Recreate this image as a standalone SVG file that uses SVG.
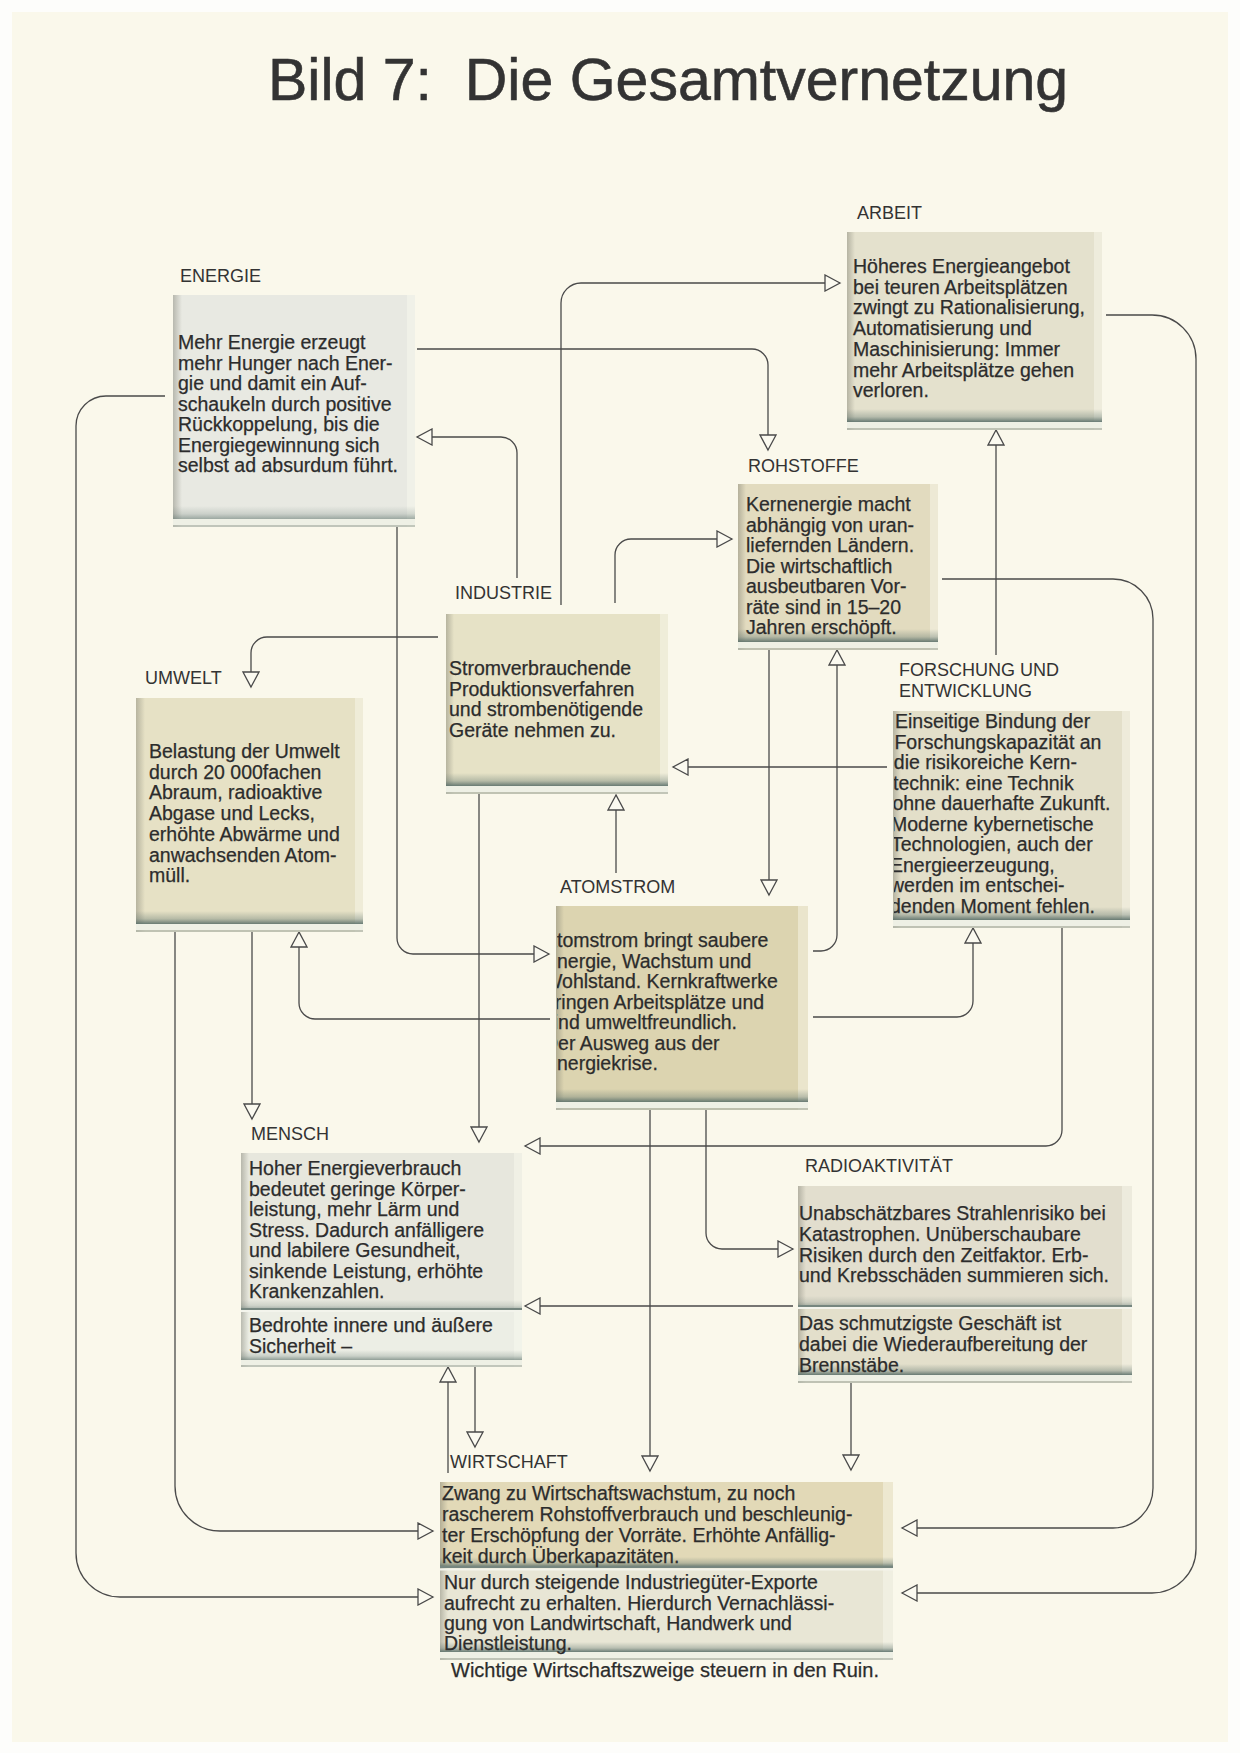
<svg xmlns="http://www.w3.org/2000/svg" width="1240" height="1753" viewBox="0 0 1240 1753">
<style>
.lbl{font-family:"Liberation Sans",Arial,Helvetica,sans-serif;font-size:18px;fill:#333333}
.txt{font-family:"Liberation Sans",Arial,Helvetica,sans-serif;font-size:19.5px;fill:#2c2c2c;stroke:#2c2c2c;stroke-width:0.25}
.ttl{font-family:"Liberation Sans",Arial,Helvetica,sans-serif;font-size:59px;fill:#333333;stroke:#333333;stroke-width:0.6}
.conn path{fill:none;stroke:#4a4a4a;stroke-width:1.3;marker-end:url(#ah)}
.ls{fill:url(#shadeL)}
.rl{fill:#fbfaf0;opacity:.45}
.bs{fill:url(#shadeB)}
.bl{fill:#eef0e5}
.be{stroke:#b3b8ac;stroke-width:1.5}
.dv{stroke:#76867f;stroke-width:2}
.dvl{stroke:#f3f4ec;stroke-width:2}
</style>
<defs>
<marker id="ah" viewBox="-17 -9 19 18" refX="0" refY="0" markerWidth="19" markerHeight="18" markerUnits="userSpaceOnUse" orient="auto">
<path d="M0,0 L-15,-8 L-15,8 Z" fill="#fbfaf0" stroke="#4a4a4a" stroke-width="1.3"/>
</marker>
<linearGradient id="shadeL" x1="0" y1="0" x2="1" y2="0">
<stop offset="0" stop-color="#7d7d70" stop-opacity="0.45"/>
<stop offset="1" stop-color="#7d7d70" stop-opacity="0"/>
</linearGradient>
<linearGradient id="shadeB" x1="0" y1="0" x2="0" y2="1">
<stop offset="0" stop-color="#5f746e" stop-opacity="0"/>
<stop offset="0.6" stop-color="#5f746e" stop-opacity="0.35"/>
<stop offset="1" stop-color="#5a6f69" stop-opacity="0.9"/>
</linearGradient>
<clipPath id="cAtom"><rect x="557" y="906" width="251" height="204"/></clipPath>
<clipPath id="cFor"><rect x="894" y="711" width="236" height="217"/></clipPath>
</defs>

<rect x="0" y="0" width="1240" height="1753" fill="#fdfdfb"/>
<rect x="12" y="12" width="1216" height="1730" fill="#faf8eb"/>

<text class="ttl" x="268" y="100">Bild 7:&#160; Die Gesamtvernetzung</text>

<g id="connectors" class="conn">
<path d="M417,349 H752 A16,16 0 0 1 768,365 V450"/>
<path d="M517,578 V453 A16,16 0 0 0 501,437 H417"/>
<path d="M561,605 V303 A20,20 0 0 1 581,283 H840"/>
<path d="M615,603 V555 A16,16 0 0 1 631,539 H732"/>
<path d="M438,637 H267 A16,16 0 0 0 251,653 V687"/>
<path d="M397,527 V938 A16,16 0 0 0 413,954 H549"/>
<path d="M165,396 H106 A30,30 0 0 0 76,426 V1553 A44,44 0 0 0 120,1597 H433"/>
<path d="M1106,315 H1152 A44,44 0 0 1 1196,359 V1549 A44,44 0 0 1 1152,1593 H902"/>
<path d="M942,579 H1113 A40,40 0 0 1 1153,619 V1488 A40,40 0 0 1 1113,1528 H902"/>
<path d="M769,650 V895"/>
<path d="M813,951 H821 A16,16 0 0 0 837,935 V650"/>
<path d="M996,655 V430"/>
<path d="M887,767 H673"/>
<path d="M616,873 V795"/>
<path d="M550,1019 H315 A16,16 0 0 1 299,1003 V932"/>
<path d="M813,1017 H957 A16,16 0 0 0 973,1001 V928"/>
<path d="M1062,928 V1130 A16,16 0 0 1 1046,1146 H525"/>
<path d="M479,794 V1142"/>
<path d="M252,932 V1119"/>
<path d="M175,932 V1486 A45,45 0 0 0 220,1531 H433"/>
<path d="M650,1110 V1471"/>
<path d="M706,1110 V1233 A16,16 0 0 0 722,1249 H793"/>
<path d="M793,1306 H525"/>
<path d="M851,1383 V1470"/>
<path d="M475,1367 V1447"/>
<path d="M448,1473 V1367"/>
</g>

<g id="n-energie">
<text class="lbl" x="180" y="282">ENERGIE</text>
<rect x="173" y="295" width="242" height="232" fill="#e8e9e2"/>
<rect class="ls" x="173" y="295" width="9" height="232"/>
<rect class="rl" x="407" y="295" width="8" height="232"/>
<rect class="bs" x="173" y="506" width="242" height="13" opacity="0.6"/>
<rect class="bl" x="173" y="519" width="242" height="6"/>
<line class="be" x1="173" y1="526" x2="415" y2="526"/>
<text class="txt"><tspan x="178" y="349">Mehr Energie erzeugt</tspan><tspan x="178" y="369.5">mehr Hunger nach Ener-</tspan><tspan x="178" y="390">gie und damit ein Auf-</tspan><tspan x="178" y="410.5">schaukeln durch positive</tspan><tspan x="178" y="431">Rückkoppelung, bis die</tspan><tspan x="178" y="451.5">Energiegewinnung sich</tspan><tspan x="178" y="472">selbst ad absurdum führt.</tspan></text>
</g>

<g id="n-arbeit">
<text class="lbl" x="857" y="219">ARBEIT</text>
<rect x="847" y="232" width="255" height="198" fill="#e4e1cd"/>
<rect class="ls" x="847" y="232" width="8" height="198"/>
<rect class="rl" x="1094" y="232" width="8" height="198"/>
<rect class="bs" x="847" y="409" width="255" height="13"/>
<rect class="bl" x="847" y="422" width="255" height="6"/>
<line class="be" x1="847" y1="429" x2="1102" y2="429"/>
<text class="txt"><tspan x="853" y="273">Höheres Energieangebot</tspan><tspan x="853" y="293.7">bei teuren Arbeitsplätzen</tspan><tspan x="853" y="314.4">zwingt zu Rationalisierung,</tspan><tspan x="853" y="335">Automatisierung und</tspan><tspan x="853" y="355.8">Maschinisierung: Immer</tspan><tspan x="853" y="376.5">mehr Arbeitsplätze gehen</tspan><tspan x="853" y="397">verloren.</tspan></text>
</g>

<g id="n-rohstoffe">
<text class="lbl" x="748" y="472">ROHSTOFFE</text>
<rect x="738" y="484" width="200" height="166" fill="#e2dbbf"/>
<rect class="ls" x="738" y="484" width="8" height="166"/>
<rect class="rl" x="930" y="484" width="8" height="166"/>
<rect class="bs" x="738" y="629" width="200" height="13"/>
<rect class="bl" x="738" y="642" width="200" height="6"/>
<line class="be" x1="738" y1="649" x2="938" y2="649"/>
<text class="txt"><tspan x="746" y="511">Kernenergie macht</tspan><tspan x="746" y="531.5">abhängig von uran-</tspan><tspan x="746" y="552">liefernden Ländern.</tspan><tspan x="746" y="572.5">Die wirtschaftlich</tspan><tspan x="746" y="593">ausbeutbaren Vor-</tspan><tspan x="746" y="613.5">räte sind in 15–20</tspan><tspan x="746" y="634">Jahren erschöpft.</tspan></text>
</g>

<g id="n-industrie">
<text class="lbl" x="455" y="599">INDUSTRIE</text>
<rect x="446" y="614" width="222" height="180" fill="#e6e2c6"/>
<rect class="ls" x="446" y="614" width="8" height="180"/>
<rect class="rl" x="660" y="614" width="8" height="180"/>
<rect class="bs" x="446" y="773" width="222" height="13"/>
<rect class="bl" x="446" y="786" width="222" height="6"/>
<line class="be" x1="446" y1="793" x2="668" y2="793"/>
<text class="txt"><tspan x="449" y="675">Stromverbrauchende</tspan><tspan x="449" y="695.6">Produktionsverfahren</tspan><tspan x="449" y="716.2">und strombenötigende</tspan><tspan x="449" y="737">Geräte nehmen zu.</tspan></text>
</g>

<g id="n-umwelt">
<text class="lbl" x="145" y="684">UMWELT</text>
<rect x="136" y="698" width="227" height="234" fill="#e6e1c5"/>
<rect class="ls" x="136" y="698" width="9" height="234"/>
<rect class="rl" x="355" y="698" width="8" height="234"/>
<rect class="bs" x="136" y="911" width="227" height="13"/>
<rect class="bl" x="136" y="924" width="227" height="6"/>
<line class="be" x1="136" y1="931" x2="363" y2="931"/>
<text class="txt"><tspan x="149" y="758">Belastung der Umwelt</tspan><tspan x="149" y="778.7">durch 20 000fachen</tspan><tspan x="149" y="799.4">Abraum, radioaktive</tspan><tspan x="149" y="820">Abgase und Lecks,</tspan><tspan x="149" y="840.8">erhöhte Abwärme und</tspan><tspan x="149" y="861.5">anwachsenden Atom-</tspan><tspan x="149" y="882">müll.</tspan></text>
</g>

<g id="n-forschung">
<text class="lbl"><tspan x="899" y="676">FORSCHUNG UND</tspan><tspan x="899" y="697">ENTWICKLUNG</tspan></text>
<rect x="893" y="711" width="237" height="217" fill="#e3dfc9"/>
<rect class="ls" x="893" y="711" width="8" height="217"/>
<rect class="rl" x="1122" y="711" width="8" height="217"/>
<rect class="bs" x="893" y="907" width="237" height="13"/>
<rect class="bl" x="893" y="920" width="237" height="6"/>
<line class="be" x1="893" y1="927" x2="1130" y2="927"/>
<text class="txt" clip-path="url(#cFor)"><tspan x="895" y="728">Einseitige Bindung der</tspan><tspan x="894.4" y="748.6">Forschungskapazität an</tspan><tspan x="893.8" y="769.1">die risikoreiche Kern-</tspan><tspan x="893" y="789.7">technik: eine Technik</tspan><tspan x="892.4" y="810.2">ohne dauerhafte Zukunft.</tspan><tspan x="891" y="830.8">Moderne kybernetische</tspan><tspan x="891" y="851.3">Technologien, auch der</tspan><tspan x="890" y="871.9">Energieerzeugung,</tspan><tspan x="890" y="892.4">werden im entschei-</tspan><tspan x="890" y="913">denden Moment fehlen.</tspan></text>
</g>

<g id="n-atomstrom">
<text class="lbl" x="560" y="893">ATOMSTROM</text>
<rect x="556" y="906" width="252" height="204" fill="#dcd4b0"/>
<rect class="ls" x="556" y="906" width="8" height="204"/>
<rect class="rl" x="798" y="906" width="10" height="204"/>
<rect class="bs" x="556" y="1089" width="252" height="13"/>
<rect class="bl" x="556" y="1102" width="252" height="6"/>
<line class="be" x1="556" y1="1109" x2="808" y2="1109"/>
<text class="txt" clip-path="url(#cAtom)"><tspan x="544" y="947">Atomstrom bringt saubere</tspan><tspan x="544" y="967.5">Energie, Wachstum und</tspan><tspan x="544" y="988">Wohlstand. Kernkraftwerke</tspan><tspan x="544" y="1008.5">bringen Arbeitsplätze und</tspan><tspan x="544" y="1029">sind umweltfreundlich.</tspan><tspan x="544" y="1049.5">Der Ausweg aus der</tspan><tspan x="544" y="1070">Energiekrise.</tspan></text>
</g>

<g id="n-mensch">
<text class="lbl" x="251" y="1140">MENSCH</text>
<rect x="241" y="1153" width="281" height="157" fill="#e7e7dd"/>
<rect x="241" y="1310" width="281" height="57" fill="#eceee5"/>
<rect class="ls" x="241" y="1153" width="8" height="214"/>
<rect class="rl" x="514" y="1153" width="8" height="214"/>
<rect class="bs" x="241" y="1300" width="281" height="9" opacity="0.5"/>
<line class="dv" x1="241" y1="1309" x2="522" y2="1309"/>
<line class="dvl" x1="241" y1="1311" x2="522" y2="1311"/>
<rect class="bs" x="241" y="1350" width="281" height="10" opacity="0.7"/>
<rect class="bl" x="241" y="1360" width="281" height="5"/>
<line class="be" x1="241" y1="1366" x2="522" y2="1366"/>
<text class="txt"><tspan x="249" y="1175">Hoher Energieverbrauch</tspan><tspan x="249" y="1195.5">bedeutet geringe Körper-</tspan><tspan x="249" y="1216.1">leistung, mehr Lärm und</tspan><tspan x="249" y="1236.6">Stress. Dadurch anfälligere</tspan><tspan x="249" y="1257.2">und labilere Gesundheit,</tspan><tspan x="249" y="1277.7">sinkende Leistung, erhöhte</tspan><tspan x="249" y="1298">Krankenzahlen.</tspan><tspan x="249" y="1332">Bedrohte innere und äußere</tspan><tspan x="249" y="1353">Sicherheit –</tspan></text>
</g>

<g id="n-radioaktivitaet">
<text class="lbl" x="805" y="1172">RADIOAKTIVITÄT</text>
<rect x="798" y="1186" width="334" height="121" fill="#e2dece"/>
<rect x="798" y="1307" width="334" height="76" fill="#e3dfcb"/>
<rect class="ls" x="798" y="1186" width="8" height="197"/>
<rect class="rl" x="1122" y="1186" width="10" height="197"/>
<rect class="bs" x="798" y="1296" width="334" height="10" opacity="0.5"/>
<line class="dv" x1="798" y1="1306" x2="1132" y2="1306"/>
<line class="dvl" x1="798" y1="1308" x2="1132" y2="1308"/>
<rect class="bs" x="798" y="1364" width="334" height="11"/>
<rect class="bl" x="798" y="1375" width="334" height="6"/>
<line class="be" x1="798" y1="1382" x2="1132" y2="1382"/>
<text class="txt"><tspan x="799" y="1220">Unabschätzbares Strahlenrisiko bei</tspan><tspan x="799" y="1240.8">Katastrophen. Unüberschaubare</tspan><tspan x="799" y="1261.6">Risiken durch den Zeitfaktor. Erb-</tspan><tspan x="799" y="1282.4">und Krebsschäden summieren sich.</tspan><tspan x="799" y="1330">Das schmutzigste Geschäft ist</tspan><tspan x="799" y="1351">dabei die Wiederaufbereitung der</tspan><tspan x="799" y="1372">Brennstäbe.</tspan></text>
</g>

<g id="n-wirtschaft">
<text class="lbl" x="450" y="1468">WIRTSCHAFT</text>
<rect x="440" y="1482" width="453" height="86" fill="#e2d9b7"/>
<rect x="440" y="1568" width="453" height="92" fill="#e8e6d5"/>
<rect class="ls" x="440" y="1482" width="8" height="178"/>
<rect class="rl" x="883" y="1482" width="10" height="178"/>
<rect class="bs" x="440" y="1557" width="453" height="10"/>
<line class="dv" x1="440" y1="1567" x2="893" y2="1567"/>
<line class="dvl" x1="440" y1="1569.5" x2="893" y2="1569.5"/>
<rect class="bs" x="440" y="1642" width="453" height="10"/>
<rect class="bl" x="440" y="1652" width="453" height="6"/>
<line class="be" x1="440" y1="1659" x2="893" y2="1659"/>
<text class="txt"><tspan x="442" y="1500">Zwang zu Wirtschaftswachstum, zu noch</tspan><tspan x="442" y="1521">rascherem Rohstoffverbrauch und beschleunig-</tspan><tspan x="442" y="1542">ter Erschöpfung der Vorräte. Erhöhte Anfällig-</tspan><tspan x="442" y="1563">keit durch Überkapazitäten.</tspan><tspan x="444" y="1589">Nur durch steigende Industriegüter-Exporte</tspan><tspan x="444" y="1609.5">aufrecht zu erhalten. Hierdurch Vernachlässi-</tspan><tspan x="444" y="1630">gung von Landwirtschaft, Handwerk und</tspan><tspan x="444" y="1650">Dienstleistung.</tspan></text>
<text class="txt" x="451" y="1677" style="font-size:20px">Wichtige Wirtschaftszweige steuern in den Ruin.</text>
</g>
</svg>
